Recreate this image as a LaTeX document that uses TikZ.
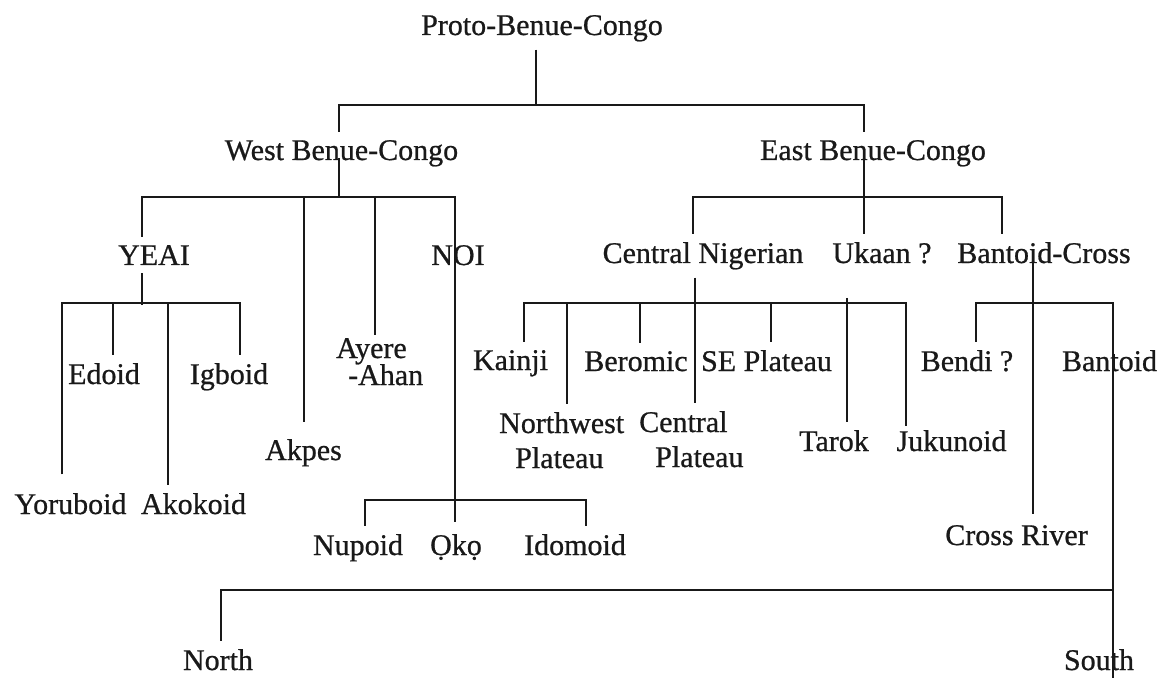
\documentclass[tikz,border=0pt]{standalone}
\usepackage{fontspec}
\setmainfont{Liberation Serif}
\newfontfamily\lblfont[FakeBold=0.7]{Liberation Serif}
\definecolor{ink}{gray}{0.1}
\begin{document}
\begin{tikzpicture}[x=1pt,y=-1pt,
  lbl/.style={font=\lblfont\fontsize{30}{36}\selectfont, text=ink, inner xsep=0pt, inner ysep=8pt, anchor=base},
  ln/.style={line width=2.6pt, draw=ink, line join=miter}]
\fill[white] (0,0) rectangle (1168,679);
\useasboundingbox (0,0) rectangle (1168,679);

% labels
\node[lbl] (pbc) at (542,35) {Proto-Benue-Congo};
\node[lbl] (wbc) at (341.5,160) {West Benue-Congo};
\node[lbl] (ebc) at (873,160) {East Benue-Congo};
\node[lbl] (yeai) at (154,265) {YEAI};
\node[lbl] (akpes) at (303.5,460) {Akpes};
\node[lbl,anchor=base west] (ayere) at (336,358) {Ayere};
\node[lbl,anchor=base west] (ahan) at (348,385) {-Ahan};
\node[lbl] (noi) at (458,265) {NOI};
\node[lbl] (nupoid) at (358,555) {Nupoid};
\node[lbl] (oko) at (456,555) {Ọkọ};
\node[lbl] (idomoid) at (575,555) {Idomoid};
\node[lbl] (yoruboid) at (70.5,514) {Yoruboid};
\node[lbl] (akokoid) at (193.5,514) {Akokoid};
\node[lbl] (edoid) at (104,384) {Edoid};
\node[lbl] (igboid) at (229,384) {Igboid};
\node[lbl] (cn) at (703,263) {Central Nigerian};
\node[lbl] (ukaan) at (882,263) {Ukaan ?};
\node[lbl] (bc) at (1044,263) {Bantoid-Cross};
\node[lbl] (kainji) at (510.5,370) {Kainji};
\node[lbl,anchor=base west] (nw) at (499,433) {Northwest};
\node[lbl,anchor=base west] (nwp) at (515,468) {Plateau};
\node[lbl] (beromic) at (636,371) {Beromic};
\node[lbl,anchor=base west] (cp1) at (639,432) {Central};
\node[lbl,anchor=base west] (cp2) at (655,467) {Plateau};
\node[lbl] (se) at (766.5,371) {SE Plateau};
\node[lbl] (tarok) at (834,451) {Tarok};
\node[lbl] (juku) at (951.5,451) {Jukunoid};
\node[lbl] (bendi) at (967,371) {Bendi ?};
\node[lbl] (bantoid) at (1109.5,371) {Bantoid};
\node[lbl] (cross) at (1016.5,545) {Cross River};
\node[lbl] (north) at (218,670) {North};
\node[lbl] (south) at (1099,670) {South};

% junction coordinates
\coordinate (pJ) at (536,105);
\coordinate (wT) at (339,105);
\coordinate (eT) at (864,105);
\coordinate (wJ) at (339,197);
\coordinate (yeaiT) at (142,197);
\coordinate (akpesT) at (304,197);
\coordinate (ayereT) at (375,197);
\coordinate (noiT) at (455,197);
\coordinate (nupT) at (365,500);
\coordinate (idoT) at (586,500);
\coordinate (yJ) at (142,303);
\coordinate (yorT) at (62,303);
\coordinate (edoT) at (113,303);
\coordinate (akoT) at (168,303);
\coordinate (igbT) at (240,303);
\coordinate (eJ) at (864,197);
\coordinate (cnT) at (693,197);
\coordinate (bcT) at (1002,197);
\coordinate (cnJ) at (695,303);
\coordinate (kaiT) at (524,303);
\coordinate (nwT) at (567,303);
\coordinate (berT) at (640,303);
\coordinate (seT) at (771,303);
\coordinate (tarT) at (847,303);
\coordinate (jukT) at (906,303);
\coordinate (bcJ) at (1033,303);
\coordinate (bendT) at (976,303);
\coordinate (bantT) at (1113,303);
\coordinate (northT) at (221,590);
\coordinate (sJ) at (1113,590);

% Proto-Benue-Congo
\draw[ln] (pJ |- pbc.south) -- (pJ);
\draw[ln] (wT |- wbc.north) -- (wT) -- (eT) -- (eT |- ebc.north);

% West Benue-Congo
\draw[ln] ([yshift=2pt]wT |- wbc.base) -- (wJ);
\draw[ln] (yeaiT |- yeai.north) -- (yeaiT) -- (noiT) -- ([yshift=4pt]noiT |- oko.north);
\draw[ln] (akpesT) -- ([yshift=8.5pt]akpesT |- akpes.north);
\draw[ln] (ayereT) -- ([yshift=-5pt]ayereT |- ayere.north);

% NOI
\draw[ln] (nupT |- nupoid.north) -- (nupT) -- (idoT) -- (idoT |- idomoid.north);

% YEAI
\draw[ln] (yJ |- yeai.south) -- ([yshift=-2pt]yJ);
\draw[ln] ([yshift=10.5pt]yorT |- yoruboid.north) -- (yorT) -- (igbT) -- (igbT |- igboid.north);
\draw[ln] (edoT) -- (edoT |- edoid.north);
\draw[ln] (akoT) -- (akoT |- akokoid.north);

% East Benue-Congo
\draw[ln] (eT |- ebc.base) -- (eJ |- ukaan.north);
\draw[ln] (cnT |- cn.north) -- (cnT) -- (bcT) -- (bcT |- bc.north);

% Central Nigerian
\draw[ln] (cnJ |- cn.south) -- (cnJ |- cp1.north);
\draw[ln] (kaiT |- kainji.north) -- (kaiT) -- (jukT) -- ([yshift=-4pt]jukT |- juku.north);
\draw[ln] (nwT) -- (nwT |- nw.north);
\draw[ln] (berT) -- (berT |- beromic.north);
\draw[ln] (seT) -- (seT |- se.north);
\draw[ln] ([yshift=5pt]tarT) -- (tarT |- tarok.north);

% Bantoid-Cross
\draw[ln] ([yshift=3pt]bcJ |- bc.base) -- ([yshift=3pt]bcJ |- cross.north);
\draw[ln] (bendT |- bendi.north) -- (bendT) -- (bantT) -- (bantT |- south.south);

% Bantoid
\draw[ln] (north.north -| northT) -- (northT) -- (sJ);
\end{tikzpicture}
\end{document}
